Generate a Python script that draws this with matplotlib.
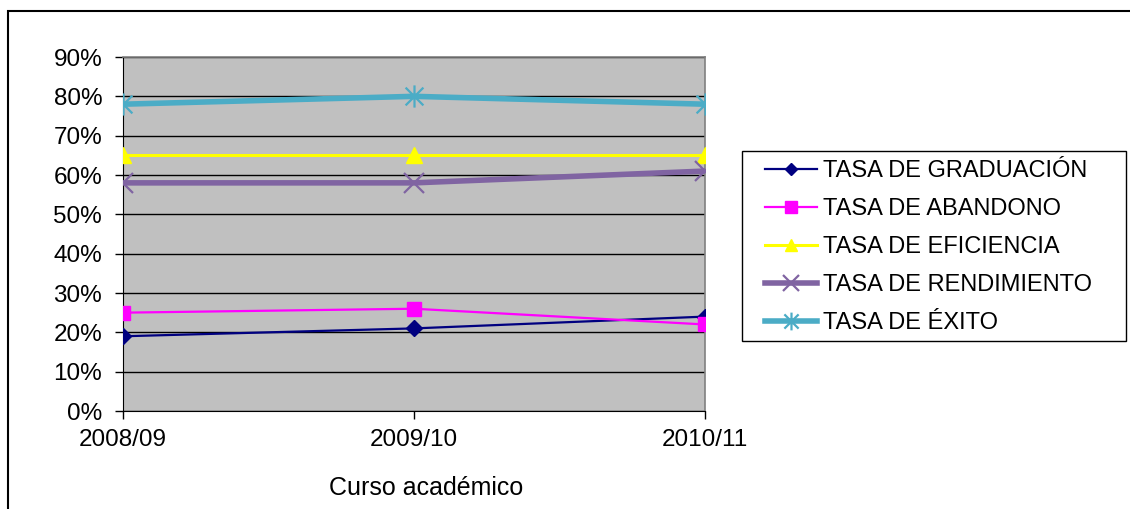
import matplotlib
matplotlib.use("Agg")
import matplotlib.pyplot as plt
from matplotlib.path import Path
from matplotlib.patches import Rectangle
from matplotlib.ticker import FuncFormatter

plt.rcParams['font.family'] = ['Liberation Sans', 'DejaVu Sans']

# Datos
cursos = ["2008/09", "2009/10", "2010/11"]
graduacion = [19, 21, 24]
abandono = [25, 26, 22]
eficiencia = [65, 65, 65]
rendimiento = [58, 58, 61]
exito = [78, 80, 78]

# marcador tipo asterisco (x + linea vertical) como en Excel
asterisco = Path([(-1, -1), (1, 1), (-1, 1), (1, -1), (0, -1.25), (0, 1.25)],
                 [Path.MOVETO, Path.LINETO, Path.MOVETO, Path.LINETO, Path.MOVETO, Path.LINETO])

W, H = 1130, 509
fig = plt.figure(figsize=(W / 100, H / 100), dpi=100)
ax = fig.add_axes([123 / W, 1 - 411 / H, 582 / W, 354 / H])
ax.set_facecolor("#C0C0C0")

x = range(len(cursos))
ax.plot(x, graduacion, color="#000080", lw=1.6, marker="D", ms=8, label="TASA DE GRADUACIÓN", zorder=5)
ax.plot(x, abandono, color="#FF00FF", lw=1.6, marker="s", ms=10, label="TASA DE ABANDONO", zorder=5)
ax.plot(x, eficiencia, color="#FFFF00", lw=2.2, marker="^", ms=11, label="TASA DE EFICIENCIA", zorder=5)
ax.plot(x, rendimiento, color="#8064A2", lw=4, marker="x", ms=15, mew=1.6, label="TASA DE RENDIMIENTO", zorder=5)
ax.plot(x, exito, color="#4BACC6", lw=4, marker=asterisco, ms=16, mew=1.6, label="TASA DE ÉXITO", zorder=5)

ax.set_xlim(0, 2)
ax.set_ylim(0, 90)
ax.set_yticks(range(0, 91, 10))
ax.yaxis.set_major_formatter(FuncFormatter(lambda v, p: "%d%%" % v))
ax.set_xticks(list(x))
ax.set_xticklabels(cursos)
ax.grid(axis="y", color="black", lw=1)
ax.set_axisbelow(True)
ax.tick_params(axis="both", direction="out", length=6, width=1, labelsize=17.5, colors="black")
ax.tick_params(axis="y", pad=9)
ax.tick_params(axis="x", pad=7)
for s in ["left", "bottom"]:
    ax.spines[s].set_color("black")
for s in ["top", "right"]:
    ax.spines[s].set_color("#808080")
    ax.spines[s].set_linewidth(1.2)
for lab in ax.get_xticklabels():
    lab.set_clip_on(False)

ax.set_xlabel("Curso académico", fontsize=18, va="center")
ax.xaxis.set_label_coords(0.52, -0.218)

# leyenda sin marco + recuadro aparte
leg = fig.legend(*ax.get_legend_handles_labels(), loc="upper left",
                 bbox_to_anchor=(765 / W, 1 - 160 / H), bbox_transform=fig.transFigure,
                 fontsize=17, frameon=False, handlelength=2.2, handletextpad=0.25,
                 labelspacing=0.68, borderpad=0, borderaxespad=0, markerscale=0.8)
fig.patches.append(Rectangle((742 / W, 1 - 341 / H), 384 / W, 190 / H, transform=fig.transFigure,
                             fill=False, edgecolor="black", lw=1))

# marco exterior del grafico
fig.patches.append(Rectangle((8 / W, -0.1), 1.2, 1 - 11 / H + 0.1, transform=fig.transFigure,
                             fill=False, edgecolor="black", lw=1.5))

fig.savefig("out.png", dpi=100)
